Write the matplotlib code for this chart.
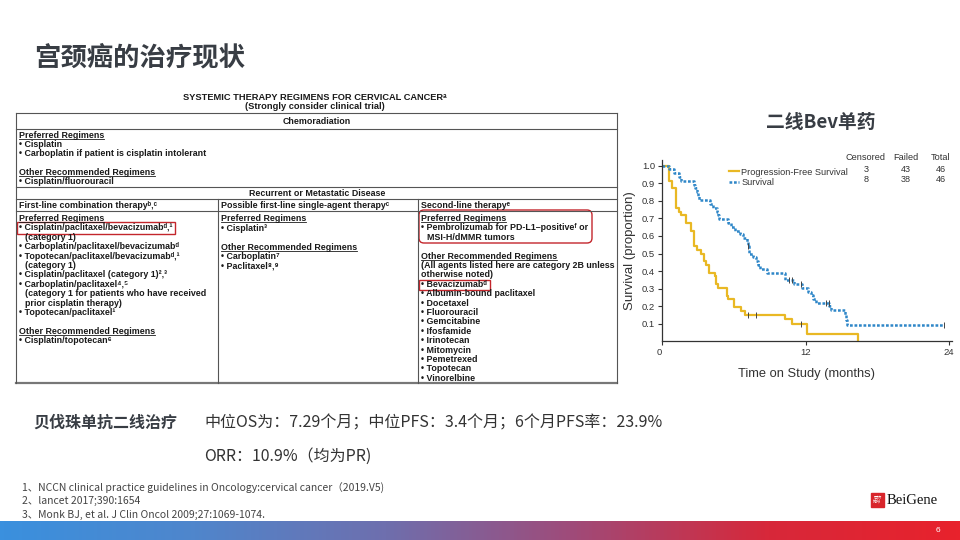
import numpy as np
import matplotlib
matplotlib.use("Agg")
import matplotlib.pyplot as plt
from matplotlib.patches import Rectangle, FancyBboxPatch
from matplotlib.colors import LinearSegmentedColormap
from matplotlib.lines import Line2D

plt.rcParams['font.family'] = ['Liberation Sans', 'DejaVu Sans', 'Noto Sans CJK SC']

W, H = 960, 540

# ---- KM data (months, survival after step) ----
pfs_t = [0, 0.55, 0.85, 1.2, 1.4, 1.6, 2.0, 2.45, 2.65, 2.95, 3.3, 3.5, 3.65,
         3.9, 4.4, 4.55, 4.7, 5.4, 5.55, 6.05, 6.6, 6.95, 10.3, 10.85, 12.1, 16.4]
pfs_s = [1.0, 0.913, 0.87, 0.76, 0.739, 0.717, 0.674, 0.63, 0.543, 0.522, 0.50,
         0.457, 0.435, 0.391, 0.37, 0.326, 0.304, 0.261, 0.239, 0.196, 0.174,
         0.152, 0.13, 0.10, 0.045, 0.0]
pfs_cens_t = [7.2, 7.9, 11.6]
pfs_cens_s = [0.152, 0.152, 0.10]

os_t = [0, 0.6, 1.0, 1.4, 1.6, 2.65, 2.8, 2.9, 3.0, 3.1, 4.0, 4.3, 4.6, 4.7,
        4.75, 5.5, 5.8, 6.1, 6.5, 6.8, 7.1, 7.2, 7.25, 7.6, 7.9, 8.0, 8.2, 8.8,
        10.3, 11.05, 11.7, 12.2, 12.45, 12.6, 12.9, 14.0, 14.1, 15.3, 15.4,
        15.45, 23.6]
os_s = [1.0, 0.978, 0.957, 0.935, 0.913, 0.891, 0.87, 0.848, 0.826, 0.804,
        0.783, 0.761, 0.739, 0.717, 0.696, 0.674, 0.652, 0.63, 0.609, 0.587,
        0.565, 0.543, 0.50, 0.478, 0.457, 0.435, 0.413, 0.391, 0.348, 0.326,
        0.305, 0.284, 0.262, 0.24, 0.22, 0.20, 0.18, 0.15, 0.12, 0.094, 0.094]
os_cens_t = [7.2, 10.6, 10.9, 11.6, 13.7, 13.95, 23.6]
os_cens_s = [0.543, 0.348, 0.348, 0.326, 0.22, 0.22, 0.094]

legend_rows = [("Progression-Free Survival", 3, 43, 46),
               ("Survival", 8, 38, 46)]

# ---- table content (NCCN), superscripts as unicode ----
top_lines = [("Preferred Regimens", 'u'), ("• Cisplatin", ''),
             ("• Carboplatin if patient is cisplatin intolerant", ''), ("", ''),
             ("Other Recommended Regimens", 'u'), ("• Cisplatin/fluorouracil", '')]
col1_lines = [("Preferred Regimens", 'u'),
              ("• Cisplatin/paclitaxel/bevacizumabᵈ,¹", ''),
              ("  (category 1)", ''),
              ("• Carboplatin/paclitaxel/bevacizumabᵈ", ''),
              ("• Topotecan/paclitaxel/bevacizumabᵈ,¹", ''),
              ("  (category 1)", ''),
              ("• Cisplatin/paclitaxel (category 1)²,³", ''),
              ("• Carboplatin/paclitaxel⁴,⁵", ''),
              ("  (category 1 for patients who have received", ''),
              ("  prior cisplatin therapy)", ''),
              ("• Topotecan/paclitaxel¹", ''), ("", ''),
              ("Other Recommended Regimens", 'u'),
              ("• Cisplatin/topotecan⁶", '')]
col2_lines = [("Preferred Regimens", 'u'), ("• Cisplatin³", ''), ("", ''),
              ("Other Recommended Regimens", 'u'), ("• Carboplatin⁷", ''),
              ("• Paclitaxel⁸,⁹", '')]
col3_lines = [("Preferred Regimens", 'u'),
              ("• Pembrolizumab for PD-L1–positiveᶠ or", ''),
              ("  MSI-H/dMMR tumors", ''), ("", ''),
              ("Other Recommended Regimens", 'u'),
              ("(All agents listed here are category 2B unless", ''),
              ("otherwise noted)", ''),
              ("• Bevacizumabᵈ", ''), ("• Albumin-bound paclitaxel", ''),
              ("• Docetaxel", ''), ("• Fluorouracil", ''), ("• Gemcitabine", ''),
              ("• Ifosfamide", ''), ("• Irinotecan", ''), ("• Mitomycin", ''),
              ("• Pemetrexed", ''), ("• Topotecan", ''), ("• Vinorelbine", '')]
col_heads = ["First-line combination therapyᵇ,ᶜ",
             "Possible first-line single-agent therapyᶜ",
             "Second-line therapyᵉ"]

refs = ["1、NCCN clinical practice guidelines in Oncology:cervical cancer（2019.V5)",
        "2、lancet 2017;390:1654",
        "3、Monk BJ, et al. J Clin Oncol 2009;27:1069-1074."]

fig = plt.figure(figsize=(9.6, 5.4), dpi=100)
fig.patch.set_facecolor('white')

# full-figure overlay in pixel coordinates (y down)
ax0 = fig.add_axes([0, 0, 1, 1])
ax0.set_xlim(0, W)
ax0.set_ylim(H, 0)
ax0.axis('off')

cjk = ['Noto Sans CJK SC', 'DejaVu Sans']
dark = '#383d44'

ax0.text(34, 58, "宫颈癌的治疗现状", family=cjk, fontsize=19, weight='bold',
         color=dark, va='center', ha='left')
ax0.text(821, 122, "二线Bev单药", family=cjk, fontsize=13.5, weight='bold',
         color=dark, va='center', ha='center')

# ---- table ----
TF = 6.4
tk = dict(fontsize=TF, weight='bold', color='#1a1a1a', va='baseline')
ax0.text(315, 100, "SYSTEMIC THERAPY REGIMENS FOR CERVICAL CANCERᵃ",
         ha='center', fontsize=6.7, weight='bold', color='#1a1a1a',
         va='baseline')
ax0.text(315, 109, "(Strongly consider clinical trial)", ha='center',
         fontsize=6.7, weight='bold', color='#1a1a1a', va='baseline')

L, R, C1, C2 = 16, 617, 218, 418
lc = '#555555'
for yy in [113, 129, 187, 199, 211]:
    ax0.plot([L, R], [yy, yy], color=lc, lw=0.8)
ax0.plot([L, R], [383, 383], color='#777777', lw=1.6)
for xx in [L, R]:
    ax0.plot([xx, xx], [113, 383], color=lc, lw=0.8)
for xx in [C1, C2]:
    ax0.plot([xx, xx], [199, 383], color=lc, lw=0.8)

ax0.text(317, 124.5, "Chemoradiation", ha='center', **tk)
ax0.text(317, 196, "Recurrent or Metastatic Disease", ha='center', **tk)
for xx, s in zip([19, 221, 421], col_heads):
    ax0.text(xx, 208, s, ha='left', **tk)

underlined = []


def put_block(x, y0, lines, step):
    y = y0
    for s, flag in lines:
        if s:
            indent = 6 if s.startswith("  ") else 0
            t = ax0.text(x + indent, y, s.strip(), ha='left', **tk)
            if flag == 'u':
                underlined.append((t, y))
        y += step


put_block(19, 137.5, top_lines, 9.4)
put_block(19, 221, col1_lines, 9.4)
put_block(221, 221, col2_lines, 9.6)
put_block(421, 221, col3_lines, 9.4)

# red highlight boxes
red = '#c3262c'
ax0.add_patch(Rectangle((17, 222), 158, 12, fill=False, ec=red, lw=1.0))
ax0.add_patch(Rectangle((419, 280), 71, 9.5, fill=False, ec=red, lw=1.0))
ax0.add_patch(FancyBboxPatch((419, 210), 173, 33,
                             boxstyle="round,pad=0,rounding_size=5",
                             fill=False, ec=red, lw=1.0))

# ---- KM plot ----
ax = fig.add_axes([662 / W, 1 - 341 / H, (952 - 662) / W, (341 - 160) / H])
ax.step(pfs_t, pfs_s, where='post', color='#e9b824', lw=1.6)
ax.step(os_t, os_s, where='post', color='#2f87c8', lw=1.8,
        linestyle=(0, (1.1, 0.7)))
ax.plot(pfs_cens_t, pfs_cens_s, ls='none', marker='|', ms=4, mew=0.7,
        color='#444444')
ax.plot(os_cens_t, os_cens_s, ls='none', marker='|', ms=4, mew=0.7,
        color='#444444')
ax.set_xlim(0, 24.25)
ax.set_ylim(0.003, 1.032)
ax.set_xticks([0, 12, 24])
ax.set_yticks(np.round(np.arange(0.1, 1.01, 0.1), 1))
ax.set_yticklabels([f"{v:.1f}" for v in np.arange(0.1, 1.01, 0.1)])
kmfont = ['Liberation Sans']
for lab in ax.get_xticklabels() + ax.get_yticklabels():
    lab.set_family(kmfont)
    lab.set_fontsize(6.8)
    lab.set_color('#333333')
ax.get_xticklabels()[0].set_horizontalalignment('right')
ax.tick_params(length=3, width=0.8, color='#333333', pad=2)
for sp in ['top', 'right']:
    ax.spines[sp].set_visible(False)
for sp in ['left', 'bottom']:
    ax.spines[sp].set_color('#333333')
    ax.spines[sp].set_linewidth(0.9)
ax.set_facecolor('none')
ax.set_ylabel("Survival (proportion)", family=kmfont, fontsize=9.5,
              color='#333333', labelpad=4)
ax.set_xlabel("Time on Study (months)", family=kmfont, fontsize=9.3,
              color='#333333', labelpad=8)

handles = [Line2D([], [], color='#e9b824', lw=1.6),
           Line2D([], [], color='#2f87c8', lw=1.8, linestyle=(0, (1.1, 0.7)))]
leg = ax.legend(handles, [r[0] for r in legend_rows], loc='upper left',
                bbox_to_anchor=(724 / W, 1 - 163 / H),
                bbox_transform=fig.transFigure, frameon=False,
                prop={'family': kmfont, 'size': 6.6}, handlelength=1.1,
                handletextpad=0.3, labelspacing=0.2, borderpad=0)
for t in leg.get_texts():
    t.set_color('#333333')
lk = dict(family=kmfont, fontsize=6.6, color='#333333', ha='center',
          va='center')
for xx, s in zip([866, 906, 941], ["Censored", "Failed", "Total"]):
    ax0.text(xx, 157, s, **lk)
for yy, row in zip([169, 179], legend_rows):
    for xx, v in zip([866, 906, 941], row[1:]):
        ax0.text(xx, yy, str(v), **lk)

# ---- bottom text ----
ax0.text(33, 423, "贝伐珠单抗二线治疗", family=cjk, fontsize=11.5,
         weight='bold', color=dark, va='center')
ax0.text(204, 423, "中位OS为：7.29个月；中位PFS：3.4个月；6个月PFS率：23.9%",
         family=cjk, fontsize=11.5, color='#333333', va='center')
ax0.text(204, 456, "ORR：10.9%（均为PR)", family=cjk, fontsize=11.5,
         color='#333333', va='center')
for yy, s in zip([488, 501, 515], refs):
    ax0.text(22, yy, s, family=['Noto Sans CJK SC', 'DejaVu Sans'],
             fontsize=7.5, color='#444444', va='center')

# ---- footer bar ----
cmap = LinearSegmentedColormap.from_list(
    'bar', ['#3a90de', '#4f86cc', '#6e6fae', '#a04a78', '#d7283a', '#e8222c'])
grad = np.linspace(0, 1, 256).reshape(1, -1)
ax0.imshow(grad, cmap=cmap, aspect='auto', extent=[0, W, 540, 521], zorder=1)
ax0.text(938, 531, "6", color='white', fontsize=6, ha='center', va='center')

# logo
ax0.add_patch(Rectangle((871, 493), 13, 14, color='#d8252b'))
ax0.text(877.5, 500, "百济\n神州", family=cjk, fontsize=3, color='white',
         ha='center', va='center', linespacing=0.9)
ax0.text(887, 501, "BeiGene", family=['Liberation Serif'], fontsize=10.5,
         color='#111111', va='center')

ax0.set_xlim(0, W)
ax0.set_ylim(H, 0)

# underline the regimen headings
fig.canvas.draw()
r = fig.canvas.get_renderer()
for t, y in underlined:
    bb = t.get_window_extent(r)
    ax0.plot([bb.x0, bb.x1], [y + 1.2, y + 1.2], color='#1a1a1a', lw=0.6)

fig.savefig("out.png", dpi=100, facecolor='white')
